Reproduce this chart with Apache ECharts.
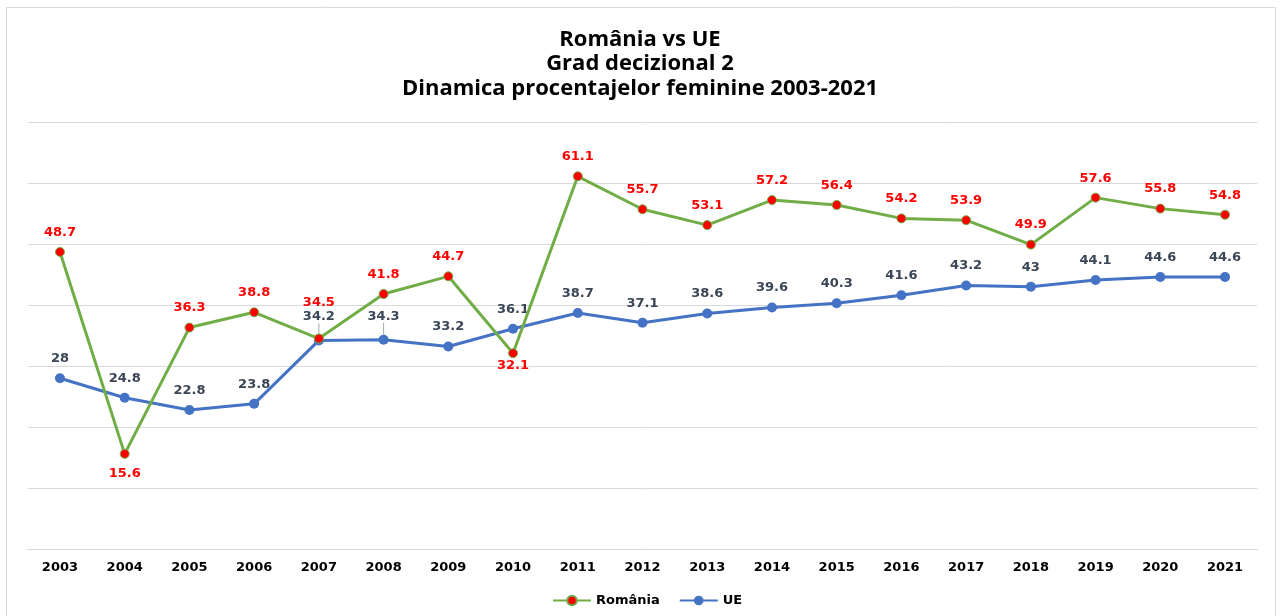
<!DOCTYPE html>
<html>
<head>
<meta charset="utf-8">
<script src="https://cdn.jsdelivr.net/npm/echarts@6/dist/echarts.min.js"></script>
<style>
  html, body { margin: 0; padding: 0; background: #fff; }
  #chart { width: 1280px; height: 616px; }
</style>
</head>
<body>
<div id="chart"></div>
<script>
// date
var years = ['2003', '2004', '2005', '2006', '2007', '2008', '2009', '2010', '2011', '2012',
             '2013', '2014', '2015', '2016', '2017', '2018', '2019', '2020', '2021'];
var romania = [48.7, 15.6, 36.3, 38.8, 34.5, 41.8, 44.7, 32.1, 61.1, 55.7,
               53.1, 57.2, 56.4, 54.2, 53.9, 49.9, 57.6, 55.8, 54.8];
var ue = [28, 24.8, 22.8, 23.8, 34.2, 34.3, 33.2, 36.1, 38.7, 37.1,
          38.6, 39.6, 40.3, 41.6, 43.2, 43, 44.1, 44.6, 44.6];
// etichete puse sub punct pentru Romania
var roBelow = [1, 7];
// etichete UE cu linie de legatura
var ueLeader = [4, 5];

var labelFont = 'DejaVu Sans';
var guide = { show: true, lineStyle: { color: '#a6a6a6', width: 1 } };

var chart = echarts.init(document.getElementById('chart'));

var roData = romania.map(function (v, i) {
    if (roBelow.indexOf(i) >= 0) {
        return { value: v, label: { position: 'bottom', distance: i === 1 ? 8 : 1 } };
    }
    if (i === 4) {
        return { value: v, label: { distance: 24 } };
    }
    return v;
});

var ueData = ue.map(function (v, i) {
    if (ueLeader.indexOf(i) >= 0) {
        return { value: v, labelLine: guide };
    }
    return v;
});

var option = {
    animation: false,
    graphic: [{
        type: 'rect',
        shape: { x: 6.5, y: 7.5, width: 1269, height: 620 },
        style: { fill: 'none', stroke: '#d9d9d9', lineWidth: 1 },
        silent: true
    }],
    title: {
        text: 'România vs UE\nGrad decizional 2\nDinamica procentajelor feminine 2003-2021',
        left: 'center',
        top: 22,
        textStyle: {
            fontFamily: 'Open Sans',
            fontWeight: 'bold',
            fontSize: 22,
            lineHeight: 24.5,
            color: '#000'
        }
    },
    legend: {
        bottom: 4,
        left: 547,
        itemWidth: 38,
        itemHeight: 12,
        itemGap: 19,
        textStyle: { fontFamily: labelFont, fontWeight: 'bold', fontSize: 13, color: '#000' },
        data: ['România', 'UE']
    },
    grid: { left: 27.6, right: 22.6, top: 122, bottom: 67 },
    xAxis: {
        type: 'category',
        data: years,
        boundaryGap: true,
        axisLine: { lineStyle: { color: '#d9d9d9' } },
        axisTick: { show: false },
        axisLabel: { fontFamily: labelFont, fontWeight: 'bold', fontSize: 13, color: '#000', margin: 12 }
    },
    yAxis: {
        type: 'value',
        min: 0,
        max: 70,
        interval: 10,
        axisLabel: { show: false },
        axisLine: { show: false },
        axisTick: { show: false },
        splitLine: { lineStyle: { color: '#d9d9d9' } }
    },
    series: [
        {
            name: 'România',
            type: 'line',
            data: roData,
            symbol: 'circle',
            symbolSize: 9,
            lineStyle: { color: '#70AD47', width: 3 },
            itemStyle: { color: '#FF0000', borderColor: '#70AD47', borderWidth: 1 },
            label: {
                show: true,
                position: 'top',
                distance: 8,
                fontFamily: labelFont,
                fontWeight: 'bold',
                fontSize: 13,
                color: '#FF0000'
            },
            z: 3
        },
        {
            name: 'UE',
            type: 'line',
            data: ueData,
            symbol: 'circle',
            symbolSize: 10,
            lineStyle: { color: '#4472C4', width: 3 },
            itemStyle: { color: '#4472C4' },
            label: {
                show: true,
                position: 'top',
                distance: 8,
                fontFamily: labelFont,
                fontWeight: 'bold',
                fontSize: 13,
                color: '#3A4556'
            },
            labelLayout: function (p) {
                if (ueLeader.indexOf(p.dataIndex) >= 0) {
                    return { dy: -4 };
                }
                return {};
            },
            z: 2
        }
    ]
};

chart.setOption(option);
</script>
</body>
</html>
